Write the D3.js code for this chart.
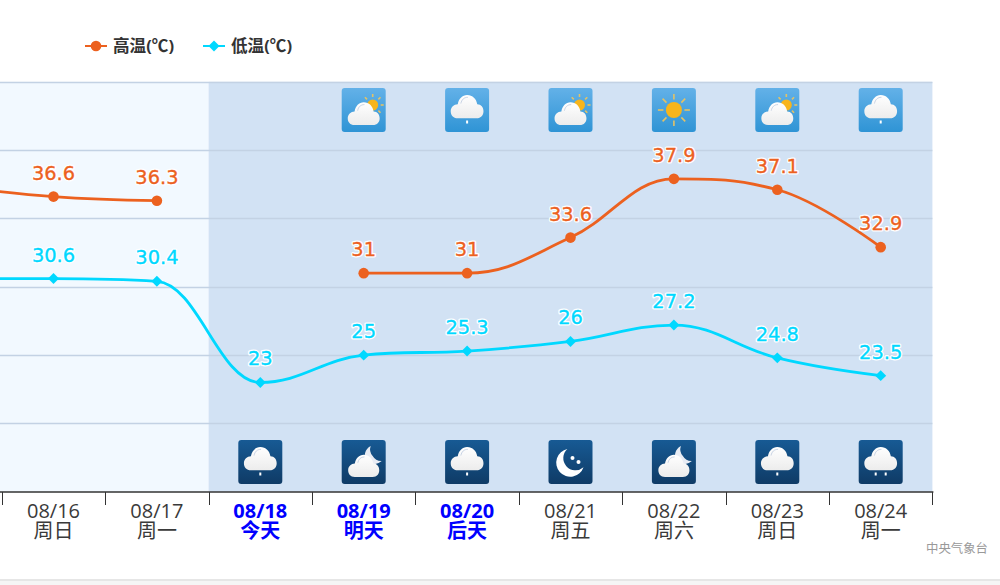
<!DOCTYPE html>
<html><head><meta charset="utf-8">
<script src="https://cdn.jsdelivr.net/npm/d3@7/dist/d3.min.js"></script>
<style>html,body{margin:0;padding:0;background:#fff;overflow:hidden}svg{display:block}</style>
</head><body><svg id="c" width="1000" height="585"></svg>
<script>
const dates=["08/15","08/16","08/17","08/18","08/19","08/20","08/21","08/22","08/23","08/24"];
const days=["周六","周日","周一","今天","明天","后天","周五","周六","周日","周一"];
const highs=[37.4,36.6,36.3,null,31,31,33.6,37.9,37.1,32.9];
const lows=[30.6,30.6,30.4,23,25,25.3,26,27.2,24.8,23.5];
const dayIcons=[null,null,null,null,"partly","rain","partly","sun","partly","rain"];
const nightIcons=[null,null,null,"rain","moonCloud","rain","moon","moonCloud","rain","rain2"];
const highlighted=["08/18","08/19","08/20"];
const yTicks=[15,20,25,30,35,40,45];
const todayIndex=3;
const highColor="#ec611f",lowColor="#00d8ff";
const svg=d3.select("#c");
const F='"Open Sans","Noto Sans CJK SC",sans-serif';
const x=d3.scaleBand().domain(dates).range([-101.6,932.4]);
const y=d3.scaleLinear().domain([15,45]).range([491.8,81.8]);
const cx=d=>x(d)+x.bandwidth()/2;
const visible=dates.filter(d=>cx(d)>0);
const defs=svg.append("defs");
function grad(id,a,b){const g=defs.append("linearGradient").attr("id",id).attr("x1",0).attr("x2",0).attr("y1",0).attr("y2",1);
 g.append("stop").attr("offset",0).attr("stop-color",a);g.append("stop").attr("offset",1).attr("stop-color",b);}
grad("dayBg","#63b1e8","#2f94d5");grad("nightBg","#175a94","#0f3b66");grad("cloudFill","#ffffff","#ececec");
// page shadow
svg.append("rect").attr("x",0).attr("y",579).attr("width",1000).attr("height",6).attr("fill","#f5f5f5");
svg.append("rect").attr("x",0).attr("y",579).attr("width",1000).attr("height",2).attr("fill","#e6e6e6");
// plot bands
const splitX=x(dates[todayIndex]),endX=x.range()[1];
svg.append("rect").attr("x",0).attr("y",y(45)).attr("width",splitX).attr("height",y(15)-y(45)).attr("fill","#f2f9ff");
svg.append("rect").attr("x",splitX).attr("y",y(45)).attr("width",endX-splitX).attr("height",y(15)-y(45)).attr("fill","#d2e2f4");
// grid
svg.append("g").selectAll("line").data(yTicks.slice(1)).join("line").attr("x1",0).attr("x2",endX)
 .attr("y1",d=>Math.round(y(d))+.5).attr("y2",d=>Math.round(y(d))+.5).attr("stroke","#c3d2e4").attr("stroke-width",1.3);
// axis
const ticks=dates.map(d=>x(d)).concat([endX]);
svg.append("line").attr("x1",0).attr("x2",endX+1).attr("y1",492).attr("y2",492).attr("stroke","#333").attr("stroke-width",1.5);
svg.append("g").selectAll("line").data(ticks).join("line").attr("x1",d=>Math.round(d)+.5).attr("x2",d=>Math.round(d)+.5).attr("y1",492).attr("y2",505).attr("stroke","#333");
const lab=svg.append("g").selectAll("g").data(visible).join("g");
lab.append("text").attr("x",cx).attr("y",518).text(d=>d);
lab.append("text").attr("x",cx).attr("y",538).text(d=>days[dates.indexOf(d)]);
lab.selectAll("text").attr("text-anchor","middle").attr("font-family",F).attr("font-size",20)
 .attr("fill",function(){return highlighted.includes(d3.select(this.parentNode).datum())?"#0000ff":"#3a3a3a"})
 .attr("font-weight",function(){return highlighted.includes(d3.select(this.parentNode).datum())?700:400});
// spline (control points leaning to neighbours, flattened at local extrema)
function splinePath(pts){
 const s=1.5,den=2.5;let p=`M${pts[0][0]},${pts[0][1]}`;
 const ctl=i=>{const a=pts[i-1],b=pts[i],c=pts[i+1];
  if(!a||!c)return null;
  let lx=(s*b[0]+a[0])/den,ly=(s*b[1]+a[1])/den,rx=(s*b[0]+c[0])/den,ry=(s*b[1]+c[1])/den;
  const k=((ry-ly)*(rx-b[0]))/(rx-lx)+b[1]-ry;ly+=k;ry+=k;
  if(ly>a[1]&&ly>b[1]){ly=Math.max(a[1],b[1]);ry=2*b[1]-ly}else if(ly<a[1]&&ly<b[1]){ly=Math.min(a[1],b[1]);ry=2*b[1]-ly}
  if(ry>c[1]&&ry>b[1]){ry=Math.max(c[1],b[1]);ly=2*b[1]-ry}else if(ry<c[1]&&ry<b[1]){ry=Math.min(c[1],b[1]);ly=2*b[1]-ry}
  return {lx,ly,rx,ry}};
 for(let i=1;i<pts.length;i++){const c0=ctl(i-1),c1=ctl(i),a=pts[i-1],b=pts[i];
  p+=`C${c0?c0.rx:a[0]},${c0?c0.ry:a[1]} ${c1?c1.lx:b[0]},${c1?c1.ly:b[1]} ${b[0]},${b[1]}`;}
 return p;}
function seg(vals){const out=[];let cur=[];vals.forEach((v,i)=>{if(v==null){if(cur.length)out.push(cur);cur=[]}else cur.push([cx(dates[i]),y(v)])});if(cur.length)out.push(cur);return out}
seg(highs).forEach(s=>svg.append("path").attr("d",splinePath(s)).attr("fill","none").attr("stroke",highColor).attr("stroke-width",2.8));
seg(lows).forEach(s=>svg.append("path").attr("d",splinePath(s)).attr("fill","none").attr("stroke",lowColor).attr("stroke-width",2.8));
const square=d3.symbol().type(d3.symbolSquare);
function labels(vals,col,off){
 vals.forEach((v,i)=>{if(v==null||cx(dates[i])<0)return;
  const base=svg.append("g").attr("font-family","'DejaVu Sans'").attr("font-size",19.4).attr("text-anchor","middle");
  base.append("text").attr("x",cx(dates[i])).attr("y",y(v)+off).text(v)
   .attr("fill","#fff").attr("stroke","#fff").attr("stroke-width",3).attr("stroke-linejoin","round");
  base.append("text").attr("x",cx(dates[i])).attr("y",y(v)+off).text(v)
   .attr("fill",col).attr("stroke",col).attr("stroke-width",.35);});}
svg.append("g").selectAll("circle").data(highs.map((v,i)=>[v,i]).filter(d=>d[0]!=null)).join("circle")
 .attr("cx",d=>cx(dates[d[1]])).attr("cy",d=>y(d[0])).attr("r",5.3).attr("fill",highColor);
svg.append("g").selectAll("path").data(lows.map((v,i)=>[v,i])).join("path").attr("d",square.size(60)())
 .attr("transform",d=>`translate(${cx(dates[d[1]])},${y(d[0])}) rotate(45)`).attr("fill",lowColor);
labels(highs,highColor,-17);labels(lows,lowColor,-17);
// icons
function cloud(g,dx,dy,k){
 const c=g.append("g").attr("transform",`translate(${dx},${dy}) scale(${k})`);
 c.append("path").attr("d","M-12,12 C-18,12 -21,8 -21,3 C-21,-2 -17,-6 -12,-6 C-11,-13 -6,-18 0,-18 C7,-18 12,-13 13,-6 C18,-6 21,-2 21,3 C21,8 18,12 12,12 Z").attr("fill","url(#cloudFill)");
 c.append("path").attr("d","M-8,-7 C-7,-12 -4,-15 1,-15").attr("fill","none").attr("stroke","#c4d0e2").attr("stroke-width",1.2);
}
function sun(g,dx,dy,r,outer){
 const s=g.append("g").attr("transform",`translate(${dx},${dy})`);
 d3.range(8).forEach(i=>{const a=i*Math.PI/4;s.append("line").attr("x1",Math.cos(a)*(r+2.5)).attr("y1",Math.sin(a)*(r+2.5)).attr("x2",Math.cos(a)*outer).attr("y2",Math.sin(a)*outer).attr("stroke","#e3c266").attr("stroke-width",1.6)});
 s.append("circle").attr("r",r).attr("fill","#f7b51c");
}
function moon(g,dx,dy,r){
 g.append("path").attr("transform",`translate(${dx},${dy})`).attr("fill","#fff")
  .attr("d",`M${-r*.15},${-r} A${r},${r} 0 1 0 ${r},${r*.3} A${r*.85},${r*.85} 0 0 1 ${-r*.15},${-r} Z`);
}
function icon(cxp,cyp,type,night){
 const g=svg.append("g").attr("transform",`translate(${cxp},${cyp})`);
 g.append("rect").attr("x",-22).attr("y",-22).attr("width",44).attr("height",44).attr("rx",3).attr("fill",night?"url(#nightBg)":"url(#dayBg)");
 const drop=(dx,dy)=>g.append("rect").attr("x",dx-1).attr("y",dy-1.5).attr("width",2).attr("height",3).attr("fill","#fff");
 if(type==="sun")sun(g,0,0,8,16);
 if(type==="partly"){sun(g,9,-5,5.5,11);cloud(g,0,6,.76)}
 if(type==="rain"){cloud(g,0,-1,.78);drop(0,12)}
 if(type==="rain2"){cloud(g,0,-1,.78);drop(-5,12);drop(5,12)}
 if(type==="moon"){moon(g,-1,1,14);g.append("circle").attr("cx",2).attr("cy",-4).attr("r",2).attr("fill","#fff");g.append("circle").attr("cx",8).attr("cy",0).attr("r",2).attr("fill","#fff")}
 if(type==="moonCloud"){
  g.append("path").attr("fill","#e8ecf4").attr("d","M7,-16 A11,11 0 0 0 3,0 A12,12 0 0 0 18,-1 A10,10 0 0 1 9,-6 A10,10 0 0 1 7,-16 Z");
  cloud(g,0,6,.74)}
}
dates.forEach((d,i)=>{if(dayIcons[i])icon(cx(d),110,dayIcons[i],false);if(nightIcons[i])icon(cx(d),462,nightIcons[i],true)});
// legend
const leg=[["高温(℃)",highColor,85,113,"c"],["低温(℃)",lowColor,203,231,"d"]];
leg.forEach(l=>{
 svg.append("line").attr("x1",l[2]).attr("x2",l[2]+22).attr("y1",46).attr("y2",46).attr("stroke",l[1]).attr("stroke-width",2);
 if(l[4]==="c")svg.append("circle").attr("cx",l[2]+11).attr("cy",46).attr("r",5.3).attr("fill",l[1]);
 else svg.append("path").attr("d",square.size(60)()).attr("transform",`translate(${l[2]+11},46) rotate(45)`).attr("fill",l[1]);
 svg.append("text").attr("x",l[3]).attr("y",52).attr("font-family",F).attr("font-weight",700).attr("font-size",16.6).attr("fill","#333").text(l[0]);
});
svg.append("text").attr("x",988).attr("y",553).attr("text-anchor","end").attr("font-family",F).attr("font-size",12.4).attr("fill","#999").text("中央气象台");
</script></body></html>
